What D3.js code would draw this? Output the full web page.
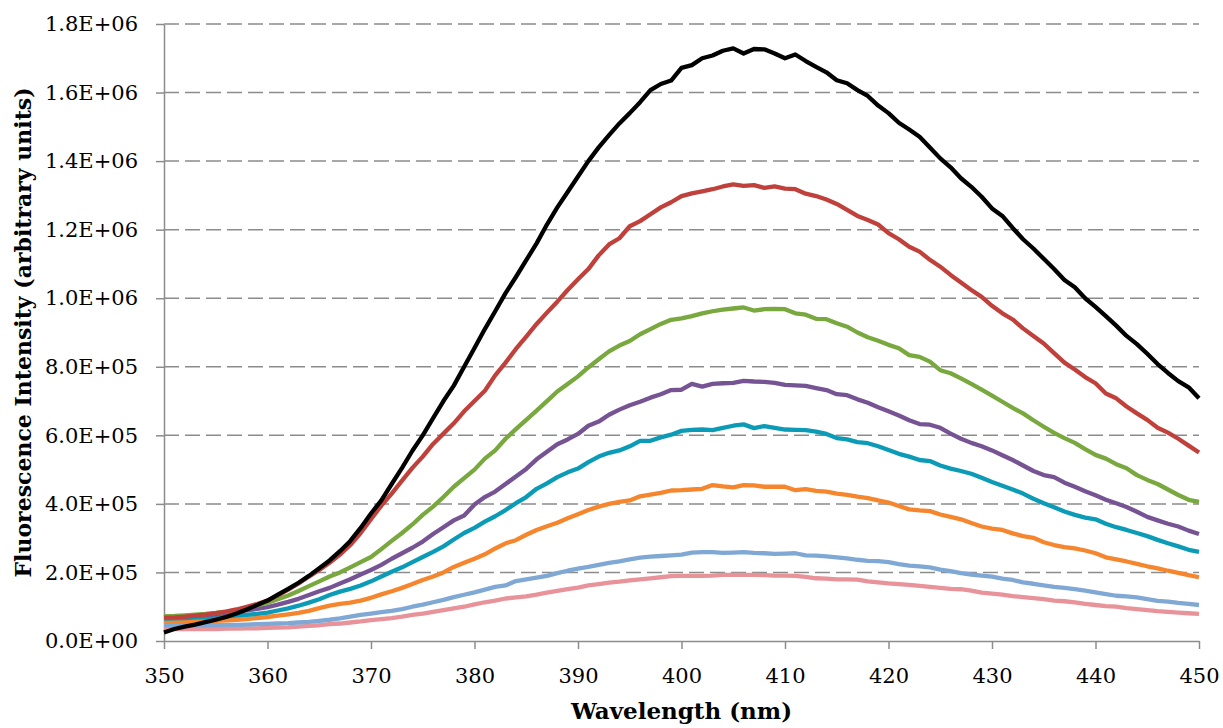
<!DOCTYPE html>
<html lang="en">
<head>
<meta charset="UTF-8">
<title>Fluorescence spectra</title>
<script src="https://d3js.org/d3.v7.min.js"></script>
<style>
  body { margin: 0; background: white; }
  svg { display: block; }
  .tick text { font-family: "DejaVu Serif", serif; font-size: 21px; fill: #000; }
  .title { font-family: "DejaVu Serif", serif; font-weight: bold; }
</style>
</head>
<body>
<svg id="chart" width="1223" height="728"></svg>
<script>
// intensities in thousands of arbitrary units, one value per nm from 350 to 450
const wavelengths = d3.range(350, 451);

const black = [25,35,42,48,55,62,70,80,92,105,118,135,152,170,190,212,235,262,292,330,
  372,410,458,505,555,600,650,700,745,800,855,910,962,1015,1062,1111,1160,1215,1265,1310,
  1355,1400,1440,1476,1510,1540,1572,1607,1625,1635,1672,1680,1700,1708,1722,1729,1714,1727,1726,1714,
  1700,1711,1692,1675,1659,1636,1627,1607,1590,1562,1540,1512,1492,1471,1440,1408,1382,1350,1325,1296,
  1262,1240,1205,1172,1145,1115,1085,1053,1032,1000,975,948,920,890,866,838,808,782,758,740,708];

const red = [68,69,71,74,77,81,86,92,100,108,118,133,150,168,188,207,228,252,280,315,
  355,395,430,468,505,538,575,605,635,670,700,730,775,812,852,888,925,958,990,1024,
  1055,1085,1125,1157,1175,1210,1225,1245,1265,1280,1298,1306,1312,1318,1326,1332,1328,1330,1322,1326,
  1320,1318,1305,1298,1288,1275,1258,1240,1228,1215,1190,1172,1150,1136,1112,1092,1068,1046,1024,1004,
  978,956,938,912,890,868,840,812,792,770,752,722,708,684,664,645,622,608,590,570,550];

const green = [72,73,75,77,79,82,86,91,97,104,112,122,133,146,160,174,188,200,215,230,
  245,268,292,315,340,368,392,420,450,475,500,532,556,590,618,645,672,700,728,750,
  772,798,822,845,862,875,895,910,925,937,941,948,956,962,967,970,973,964,968,969,
  968,956,952,940,939,927,917,900,886,876,864,854,834,829,815,790,781,766,750,733,
  716,698,680,664,644,625,607,592,578,560,543,532,516,504,484,470,458,442,426,412,406];

const purple = [70,71,72,74,76,78,81,85,89,94,99,106,114,123,134,145,155,168,180,194,
  207,222,240,256,272,290,312,332,352,366,398,420,436,458,480,502,530,552,574,588,
  604,628,640,660,675,688,698,710,720,732,733,750,742,750,752,753,759,757,756,753,
  747,746,744,738,732,720,717,705,695,682,670,658,644,633,631,622,605,590,578,568,
  556,542,528,512,496,484,478,462,450,437,425,412,402,391,377,362,352,342,334,322,312];

const teal = [65,66,67,68,69,70,72,74,76,79,83,89,95,103,112,122,134,144,152,162,
  174,188,202,215,230,245,260,276,296,315,330,348,364,382,402,420,444,460,478,492,
  503,522,538,549,556,568,584,584,594,602,613,616,617,615,622,628,632,621,627,622,
  617,616,615,611,604,592,588,580,577,568,557,546,538,528,525,512,503,496,488,476,
  464,453,442,430,415,402,390,378,368,360,355,342,332,324,315,306,295,285,276,266,260];

const orange = [56,56,57,57,58,59,60,62,64,67,70,74,78,82,88,96,103,108,112,118,
  126,136,145,155,166,178,188,200,216,228,240,253,270,285,294,310,324,335,345,358,
  370,382,392,400,406,410,422,427,432,439,440,442,444,455,451,448,455,454,450,450,
  450,440,443,438,436,430,426,421,417,410,404,394,384,381,379,369,362,355,344,334,
  328,324,314,306,301,288,280,274,270,264,256,244,238,232,225,218,212,205,199,192,186];

const lightBlue = [46,46,46,46,46,46,47,47,48,49,50,51,52,54,56,59,62,66,71,76,
  80,84,88,93,100,106,113,120,128,135,142,150,158,162,175,180,185,190,198,205,
  211,216,222,228,232,238,243,246,248,250,252,258,259,259,257,258,259,257,256,254,
  255,256,250,249,247,244,241,237,234,233,230,224,220,218,215,208,204,198,194,191,
  188,182,178,171,167,162,158,155,151,147,142,137,132,130,127,122,117,115,111,108,105];

const pink = [36,35,35,35,35,35,36,36,37,37,38,39,40,42,44,46,49,51,54,57,
  61,64,67,71,76,80,85,90,95,100,107,113,118,124,127,130,135,141,146,151,
  156,162,166,170,173,177,180,183,186,189,190,190,190,191,193,193,193,193,192,191,
  191,190,187,183,182,180,180,179,174,171,168,166,164,161,158,155,152,151,147,141,
  138,135,131,128,125,122,118,116,113,108,105,102,100,96,93,90,87,85,83,81,79];

// drawn bottom-up so the black trace ends on top
const seriesList = [pink, lightBlue, orange, teal, purple, green, red, black];
const seriesColors = ["#e8929a", "#80a8d4", "#f5862d", "#0c9bb6", "#765494", "#78a83e", "#c0413b", "#000000"];

const xTicks = [350, 360, 370, 380, 390, 400, 410, 420, 430, 440, 450];
const yTicks = [0, 200, 400, 600, 800, 1000, 1200, 1400, 1600, 1800];

const svg = d3.select("#chart");
const margin = { left: 164, right: 24, top: 24, bottom: 87 };
const width = +svg.attr("width");
const height = +svg.attr("height");

const x = d3.scaleLinear().domain([350, 450]).range([margin.left, width - margin.right]);
const y = d3.scaleLinear().domain([0, 1800]).range([height - margin.bottom, margin.top]);

function sci(v) {
  const s = (v * 1000).toExponential(1).toUpperCase();
  return s.replace(/E([+-])(\d)$/, "E$10$2");
}

// dashed gridlines
svg.append("g")
  .selectAll("line")
  .data(yTicks.filter(d => d > 0))
  .join("line")
  .attr("x1", x(350))
  .attr("x2", x(450))
  .attr("y1", d => y(d))
  .attr("y2", d => y(d))
  .attr("stroke", "#8c8c8c")
  .attr("stroke-width", 1.5)
  .attr("stroke-dasharray", "15,6");

const yAxis = svg.append("g")
  .attr("transform", `translate(${margin.left},0)`)
  .call(d3.axisLeft(y).tickValues(yTicks).tickFormat(sci).tickSize(8).tickPadding(18).tickSizeOuter(0));

const xAxis = svg.append("g")
  .attr("transform", `translate(0,${height - margin.bottom})`)
  .call(d3.axisBottom(x).tickValues(xTicks).tickFormat(d3.format("d")).tickSize(8).tickPadding(19).tickSizeOuter(0));

[yAxis, xAxis].forEach(a => {
  a.select(".domain").attr("stroke", "#8c8c8c").attr("stroke-width", 1.5);
  a.selectAll(".tick line").attr("stroke", "#8c8c8c").attr("stroke-width", 1.5);
});

const line = d3.line()
  .x((d, i) => x(wavelengths[i]))
  .y(d => y(d));

svg.append("g")
  .selectAll("path")
  .data(seriesList)
  .join("path")
  .attr("d", line)
  .attr("fill", "none")
  .attr("stroke", (d, i) => seriesColors[i])
  .attr("stroke-width", 4.3)
  .attr("stroke-linejoin", "round");

svg.append("text")
  .attr("class", "title")
  .attr("x", (x(350) + x(450)) / 2)
  .attr("y", 719)
  .attr("text-anchor", "middle")
  .style("font-size", "23px")
  .text("Wavelength (nm)");

svg.append("text")
  .attr("class", "title")
  .attr("transform", `translate(31,${(y(0) + y(1800)) / 2}) rotate(-90)`)
  .attr("text-anchor", "middle")
  .style("font-size", "22px")
  .text("Fluorescence Intensity (arbitrary units)");
</script>
</body>
</html>
